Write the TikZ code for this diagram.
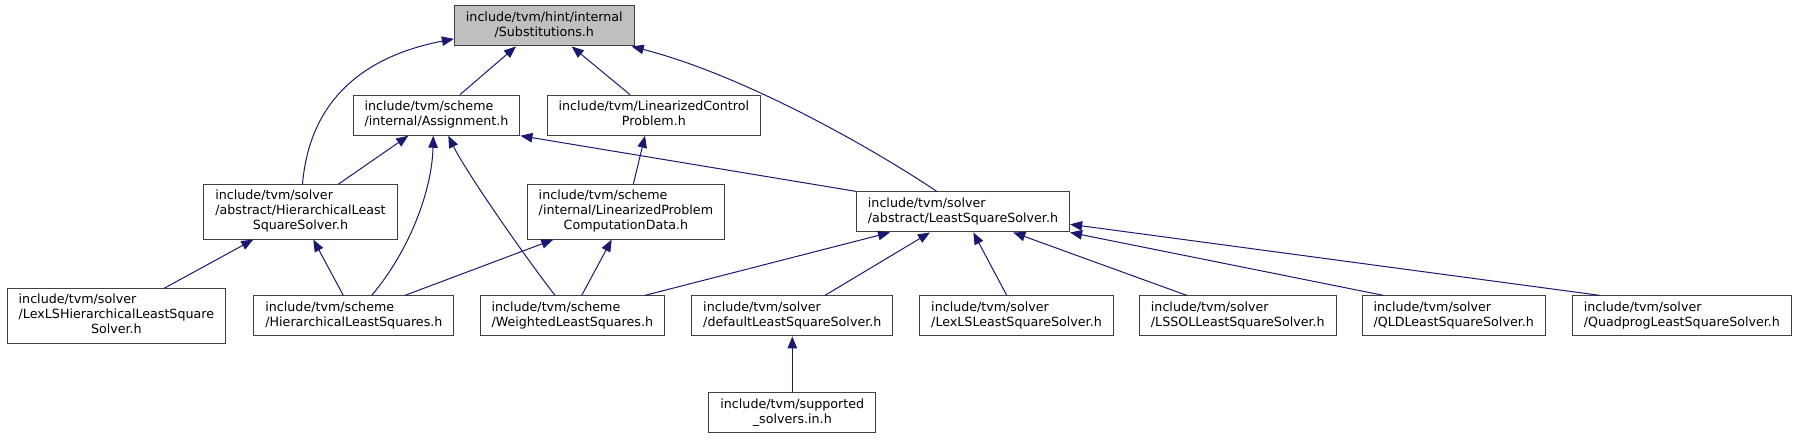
\documentclass[tikz,border=0pt]{standalone}
\usepackage{fontspec}
\setmainfont{DejaVu Sans}
\usetikzlibrary{arrows.meta}

\definecolor{edgeblue}{HTML}{191970}
\definecolor{headgray}{HTML}{BFBFBF}
\definecolor{boxgray}{HTML}{404040}

% file name: first lines left, last line centred
\newcommand{\fname}[2]{\begin{tabular}{@{}l@{}}#1\\\multicolumn{1}{@{}c@{}}{#2}\end{tabular}}

\tikzset{
	file/.style={draw=boxgray, line width=1.1pt, fill=white, inner xsep=11.5pt, inner ysep=3pt,
		minimum height=40pt, font=\fontsize{12.67}{15}\selectfont},
	tall/.style={minimum height=54.3pt},
	dep/.style={draw=edgeblue, line width=1pt, -{Triangle[length=12pt,width=9.5pt]}}
}

\begin{document}
\begin{tikzpicture}[x=1pt, y=-1pt]
				\useasboundingbox (0,0) rectangle (1798,439);
				
				% Draw the header and its direct includers
				\node[file, fill=headgray] (subst) at (544.3,25.9) {\fname{include/tvm/hint/internal}{/Substitutions.h}};
				\node[file] (assign) at (436.5,115.2) {\fname{include/tvm/scheme}{/internal/Assignment.h}};
				\node[file] (lincontrol) at (653.9,115.2) {\fname{include/tvm/LinearizedControl}{Problem.h}};
				
				% Draw the middle row
				\node[file, tall] (hlssolver) at (300.5,211.9) {\fname{include/tvm/solver\\/abstract/HierarchicalLeast}{SquareSolver.h}};
				\node[file, tall] (linprob) at (625.9,211.9) {\fname{include/tvm/scheme\\/internal/LinearizedProblem}{ComputationData.h}};
				\node[file] (lssolver) at (963,211.9) {\fname{include/tvm/solver}{/abstract/LeastSquareSolver.h}};
				
				% Draw the bottom row
				\node[file, tall] (lexlshier) at (116.4,315.9) {\fname{include/tvm/solver\\/LexLSHierarchicalLeastSquare}{Solver.h}};
				\node[file] (hls) at (353.9,315.9) {\fname{include/tvm/scheme}{/HierarchicalLeastSquares.h}};
				\node[file] (weighted) at (572.3,315.9) {\fname{include/tvm/scheme}{/WeightedLeastSquares.h}};
				\node[file] (defaultls) at (792.3,315.9) {\fname{include/tvm/solver}{/defaultLeastSquareSolver.h}};
				\node[file] (lexls) at (1016.5,315.9) {\fname{include/tvm/solver}{/LexLSLeastSquareSolver.h}};
				\node[file] (lssol) at (1237.8,315.9) {\fname{include/tvm/solver}{/LSSOLLeastSquareSolver.h}};
				\node[file] (qld) at (1453.7,315.9) {\fname{include/tvm/solver}{/QLDLeastSquareSolver.h}};
				\node[file] (quadprog) at (1681.9,315.9) {\fname{include/tvm/solver}{/QuadprogLeastSquareSolver.h}};
				\node[file] (supported) at (792.3,412.7) {\fname{include/tvm/supported}{\_solvers.in.h}};
				
				% Draw arrows into Substitutions.h
				\draw[dep] ([xshift=2pt]hlssolver.north) .. controls (310,95) and (370,55) .. ([yshift=-13pt]subst.west);
				\draw[dep] ([xshift=23.5pt]assign.north) -- ([xshift=-28.3pt]subst.south);
				\draw[dep] ([xshift=-23.9pt]lincontrol.north) -- ([xshift=27.4pt]subst.south);
				\draw[dep] ([xshift=-26.3pt]lssolver.north) .. controls (876.7,151) and (746.7,76) .. ([xshift=87.4pt]subst.south);
				
				% Draw arrows into Assignment.h
				\draw[dep] ([xshift=37.8pt]hlssolver.north) -- ([xshift=-28.2pt]assign.south);
				\draw[dep] ([xshift=17.8pt]hls.north) .. controls (410,250) and (432,190) .. ([xshift=-3.2pt]assign.south);
				\draw[dep] ([xshift=-17.3pt]weighted.north) .. controls (520,250) and (465,170) .. ([xshift=11.8pt]assign.south);
				\draw[dep] (lssolver.north west) -- (assign.south east);
				
				% Draw the remaining arrows
				\draw[dep] ([xshift=7.4pt]linprob.north) -- ([xshift=-8.9pt]lincontrol.south);
				\draw[dep] ([xshift=47.9pt]lexlshier.north) -- ([xshift=-47.2pt]hlssolver.south);
				\draw[dep] ([xshift=-10.6pt]hls.north) -- ([xshift=12.8pt]hlssolver.south);
				\draw[dep] ([xshift=51.1pt]hls.north) -- ([xshift=-72.6pt]linprob.south);
				\draw[dep] ([xshift=9.4pt]weighted.north) -- ([xshift=-14.2pt]linprob.south);
				\draw[dep] ([xshift=72.7pt]weighted.north) -- ([xshift=-73pt]lssolver.south);
				\draw[dep] ([xshift=32.7pt]defaultls.north) -- ([xshift=-33pt]lssolver.south);
				\draw[dep] ([xshift=-9.8pt]lexls.north) -- ([xshift=10.3pt]lssolver.south);
				\draw[dep] ([xshift=-51.1pt]lssol.north) -- ([xshift=50.3pt]lssolver.south);
				\draw[dep] ([xshift=-70.4pt]qld.north) -- (lssolver.south east);
				\draw[dep] ([xshift=-82.2pt]quadprog.north) -- ([yshift=-12.4pt]lssolver.east);
				\draw[dep] (supported) -- (defaultls);
			\end{tikzpicture}
\end{document}
